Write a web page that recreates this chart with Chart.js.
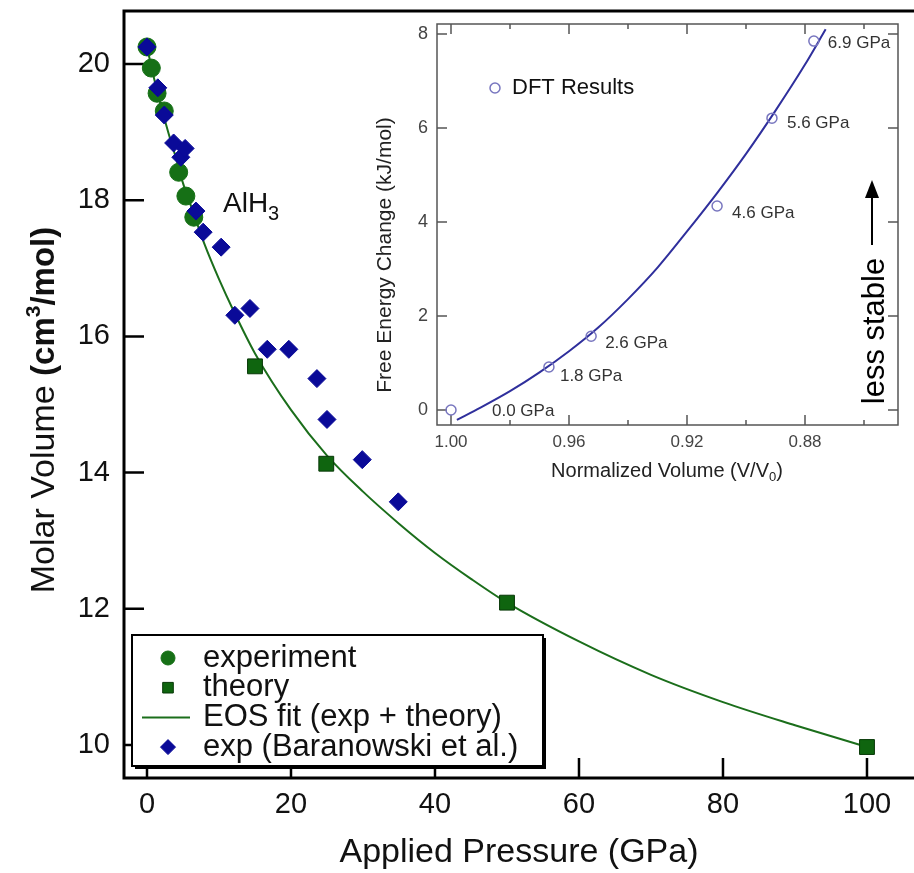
<!DOCTYPE html>
<html>
<head>
<meta charset="utf-8">
<script src="https://cdn.jsdelivr.net/npm/chart.js@4.4.1/dist/chart.umd.min.js"></script>
<style>
  body { margin: 0; background: #fff; }
  #marcoGrafico { position: relative; width: 914px; height: 873px; overflow: hidden; }
  #graficoVolumen { position: absolute; left: 0; top: 0; }
  #graficoEnergia { position: absolute; left: 360px; top: 12px; }
</style>
</head>
<body>
<div id="marcoGrafico">
  <canvas id="graficoVolumen" width="914" height="873"></canvas>
  <canvas id="graficoEnergia" width="554" height="488"></canvas>
</div>
<script>
// --- datos del grafico principal (volumen molar vs presion)
const presionExp = [0, 0.6, 1.4, 2.4, 4.4, 5.4, 6.5];
const volumenExp = [20.25, 19.94, 19.57, 19.31, 18.41, 18.06, 17.75];

const presionTeo = [15, 24.9, 50, 100];
const volumenTeo = [15.56, 14.13, 12.09, 9.97];

const presionAjuste = [0, 1, 2, 3, 4, 5, 6, 8, 10, 12, 15, 20, 25, 30, 35, 40, 45, 50, 60, 70, 80, 90, 100];
const volumenAjuste = [20.25, 19.78, 19.36, 18.98, 18.63, 18.25, 17.95, 17.35, 16.84, 16.38, 15.75, 14.92, 14.25, 13.72, 13.25, 12.82, 12.44, 12.09, 11.52, 11.03, 10.63, 10.29, 9.97];

const presionBaranowski = [0, 1.5, 2.4, 3.7, 4.7, 5.3, 6.8, 7.8, 10.3, 12.2, 14.3, 16.7, 19.7, 23.6, 25.0, 29.9, 34.9];
const volumenBaranowski = [20.25, 19.65, 19.25, 18.84, 18.63, 18.76, 17.84, 17.53, 17.31, 16.31, 16.41, 15.81, 15.81, 15.38, 14.78, 14.19, 13.57];

const ticksPresion = [0, 20, 40, 60, 80, 100];
const ticksVolumen = [10, 12, 14, 16, 18, 20];

// --- datos del recuadro (energia libre vs volumen normalizado)
const presionDFT = [0.0, 1.8, 2.6, 4.6, 5.6, 6.9];
const volNormDFT = [1.000, 0.9668, 0.9525, 0.9098, 0.8912, 0.877];
const energiaDFT = [0.0, 0.915, 1.57, 4.34, 6.21, 7.85];

const volNormAjuste = [0.998, 0.99, 0.98, 0.97, 0.96, 0.95, 0.94, 0.93, 0.92, 0.91, 0.90, 0.89, 0.88, 0.873];
const energiaAjuste = [-0.21, 0.05, 0.40, 0.80, 1.25, 1.76, 2.36, 3.03, 3.80, 4.60, 5.45, 6.37, 7.35, 8.10];

const ticksVolNorm = [1.00, 0.96, 0.92, 0.88];
const ticksVolNormMenor = [0.98, 0.94, 0.90, 0.86];
const ticksEnergia = [0, 2, 4, 6, 8];

// desplazamiento de las etiquetas "x.x GPa" respecto a cada punto
const desplazEtiquetas = [[41, 1], [11, 9], [14, 7], [15, 7], [15, 5], [14, 2]];

const fuente = '"Liberation Sans", Arial, Helvetica, sans-serif';
Chart.defaults.font.family = fuente;

const puntos = (xs, ys) => xs.map((v, i) => ({ x: v, y: ys[i] }));

// sin relleno automatico alrededor de los ejes: el area del grafico queda fija
const sinRelleno = s => { s.paddingLeft = 0; s.paddingRight = 0; s.paddingTop = 0; s.paddingBottom = 0; };

// texto con partes de distinta fuente (subindices, superindices, negrita)
function textoMixto(ctx, partes, x, y, alinear) {
  let total = 0;
  partes.forEach(p => { ctx.font = p.font; total += ctx.measureText(p.t).width; });
  let cx = alinear === 'center' ? x - total / 2 : x;
  ctx.textAlign = 'left';
  partes.forEach(p => {
    ctx.font = p.font;
    ctx.fillText(p.t, cx, y + (p.dy || 0));
    cx += ctx.measureText(p.t).width;
  });
}

// marco y marcas hacia dentro
const marco = {
  id: 'marco',
  beforeDatasetsDraw(chart, args, o) {
    const { ctx, chartArea: a, scales: { x, y } } = chart;
    ctx.save();
    ctx.strokeStyle = o.color;
    ctx.lineWidth = o.ancho;
    ctx.beginPath();
    const m = o.ancho / 2;
    if (o.lados.includes('top')) { ctx.moveTo(a.left - m, a.top); ctx.lineTo(a.right + m, a.top); }
    if (o.lados.includes('left')) { ctx.moveTo(a.left, a.top - m); ctx.lineTo(a.left, a.bottom + m); }
    if (o.lados.includes('bottom')) { ctx.moveTo(a.left - m, a.bottom); ctx.lineTo(a.right + m, a.bottom); }
    if (o.lados.includes('right')) { ctx.moveTo(a.right, a.top - m); ctx.lineTo(a.right, a.bottom + m); }
    ctx.stroke();

    ctx.lineWidth = o.anchoMarca;
    ctx.beginPath();
    const marcaX = (v, largo) => {
      const px = x.getPixelForValue(v);
      ctx.moveTo(px, a.bottom); ctx.lineTo(px, a.bottom - largo);
      if (o.arriba) { ctx.moveTo(px, a.top); ctx.lineTo(px, a.top + largo); }
    };
    x.ticks.forEach(t => marcaX(t.value, o.largo));
    (o.menoresX || []).forEach(v => marcaX(v, o.largoMenor));
    y.ticks.forEach(t => {
      const py = y.getPixelForValue(t.value);
      ctx.moveTo(a.left, py); ctx.lineTo(a.left + o.largo, py);
      if (o.derecha) { ctx.moveTo(a.right, py); ctx.lineTo(a.right - o.largo, py); }
    });
    ctx.stroke();
    ctx.restore();
  }
};

// titulo del eje y, etiqueta AlH3 y leyenda con sombra
const textosVolumen = {
  id: 'textosVolumen',
  afterDraw(chart, args, o) {
    const ctx = chart.ctx;
    ctx.save();
    ctx.fillStyle = '#111';
    ctx.textBaseline = 'alphabetic';

    ctx.save();
    ctx.translate(42, 410);
    ctx.rotate(-Math.PI / 2);
    textoMixto(ctx, [
      { t: 'Molar Volume ', font: `34px ${fuente}` },
      { t: '(cm', font: `bold 33px ${fuente}` },
      { t: '3', font: `bold 21px ${fuente}`, dy: -14 },
      { t: '/mol)', font: `bold 33px ${fuente}` }
    ], 0, 12, 'center');
    ctx.restore();

    textoMixto(ctx, [
      { t: 'AlH', font: `28px ${fuente}` },
      { t: '3', font: `20px ${fuente}`, dy: 8 }
    ], 223, 212, 'left');

    // leyenda
    const L = o.leyenda;
    ctx.fillStyle = '#000';
    ctx.fillRect(L.x + 3, L.y + 3, L.w, L.h);
    ctx.fillStyle = '#fff';
    ctx.fillRect(L.x, L.y, L.w, L.h);
    ctx.lineWidth = 2;
    ctx.strokeStyle = '#000';
    ctx.strokeRect(L.x, L.y, L.w, L.h);
    chart.data.datasets.forEach((ds, i) => {
      const cy = L.y + L.primera + i * L.paso;
      ctx.fillStyle = ds.backgroundColor;
      ctx.strokeStyle = ds.borderColor;
      if (ds.pointRadius === 0) {
        ctx.lineWidth = ds.borderWidth;
        ctx.beginPath();
        ctx.moveTo(L.lineaDesde, cy); ctx.lineTo(L.lineaHasta, cy);
        ctx.stroke();
      } else {
        ctx.lineWidth = 1;
        Chart.helpers.drawPoint(ctx, { pointStyle: ds.pointStyle, radius: L.radios[i], borderWidth: 1 }, L.simboloX, cy);
      }
      ctx.fillStyle = '#111';
      ctx.font = `${L.tamano}px ${fuente}`;
      ctx.textBaseline = 'middle';
      ctx.textAlign = 'left';
      ctx.fillText(ds.label, L.textoX, cy);
    });
    ctx.restore();
  }
};

// etiquetas del recuadro
const textosEnergia = {
  id: 'textosEnergia',
  afterDraw(chart) {
    const { ctx, scales: { x, y } } = chart;
    ctx.save();
    ctx.fillStyle = '#333';
    ctx.font = `17px ${fuente}`;
    ctx.textBaseline = 'middle';
    ctx.textAlign = 'left';
    presionDFT.forEach((p, i) => {
      const px = x.getPixelForValue(volNormDFT[i]) + desplazEtiquetas[i][0];
      const py = y.getPixelForValue(energiaDFT[i]) + desplazEtiquetas[i][1];
      ctx.fillText(`${p.toFixed(1)} GPa`, px, py);
    });

    // leyenda DFT
    const ds = chart.data.datasets[0];
    ctx.strokeStyle = ds.borderColor;
    ctx.lineWidth = ds.borderWidth;
    ctx.beginPath();
    ctx.arc(135, 76, ds.pointRadius, 0, Math.PI * 2);
    ctx.stroke();
    ctx.fillStyle = '#111';
    ctx.font = `22px ${fuente}`;
    ctx.fillText(ds.label, 152, 76);

    // titulos de ejes
    ctx.fillStyle = '#222';
    ctx.textBaseline = 'alphabetic';
    textoMixto(ctx, [
      { t: 'Normalized Volume (V/V', font: `20px ${fuente}` },
      { t: '0', font: `13px ${fuente}`, dy: 4 },
      { t: ')', font: `20px ${fuente}` }
    ], 307, 465, 'center');

    ctx.save();
    ctx.translate(25, 243);
    ctx.rotate(-Math.PI / 2);
    ctx.font = `21px ${fuente}`;
    ctx.textAlign = 'center';
    ctx.textBaseline = 'middle';
    ctx.fillText('Free Energy Change (kJ/mol)', 0, 0);
    ctx.restore();

    // "less stable" con flecha
    ctx.save();
    ctx.translate(515, 319);
    ctx.rotate(-Math.PI / 2);
    ctx.fillStyle = '#000';
    ctx.font = `31px ${fuente}`;
    ctx.textAlign = 'center';
    ctx.textBaseline = 'middle';
    ctx.fillText('less stable', 0, 0);
    ctx.restore();

    ctx.strokeStyle = '#000';
    ctx.fillStyle = '#000';
    ctx.lineWidth = 2;
    ctx.beginPath();
    ctx.moveTo(512, 233); ctx.lineTo(512, 184);
    ctx.stroke();
    ctx.beginPath();
    ctx.moveTo(512, 168); ctx.lineTo(505, 186); ctx.lineTo(519, 186);
    ctx.closePath();
    ctx.fill();
    ctx.restore();
  }
};

const ctxVolumen = document.getElementById('graficoVolumen').getContext('2d');

let graficoVolumen = new Chart(ctxVolumen, {
  type: 'scatter',
  data: {
    datasets: [{
      label: 'experiment',
      data: puntos(presionExp, volumenExp),
      pointStyle: 'circle',
      pointRadius: 9,
      backgroundColor: '#167016',
      borderColor: '#167016',
      borderWidth: 1,
      order: 2
    }, {
      label: 'theory',
      data: puntos(presionTeo, volumenTeo),
      pointStyle: 'rect',
      pointRadius: 10.5,
      backgroundColor: '#0f650f',
      borderColor: '#073807',
      borderWidth: 1,
      order: 1
    }, {
      label: 'EOS fit (exp + theory)',
      data: puntos(presionAjuste, volumenAjuste),
      showLine: true,
      pointRadius: 0,
      borderColor: '#1b6e1b',
      backgroundColor: '#1b6e1b',
      borderWidth: 2,
      tension: 0.4,
      cubicInterpolationMode: 'monotone',
      order: 3
    }, {
      label: 'exp (Baranowski et al.)',
      data: puntos(presionBaranowski, volumenBaranowski),
      pointStyle: 'rectRot',
      pointRadius: 9,
      backgroundColor: '#0a0a98',
      borderColor: '#0a0a98',
      borderWidth: 1,
      order: 0
    }]
  },
  options: {
    responsive: false,
    animation: false,
    devicePixelRatio: 1,
    events: [],
    layout: { autoPadding: false, padding: { top: 11, left: 0, right: 0, bottom: 0 } },
    plugins: {
      legend: { display: false },
      tooltip: { enabled: false },
      marco: { color: '#000', ancho: 3, anchoMarca: 2.5, largo: 20, lados: ['top', 'left', 'bottom'] },
      textosVolumen: {
        leyenda: {
          x: 132, y: 635, w: 411, h: 131, primera: 23, paso: 29.7,
          simboloX: 168, lineaDesde: 142, lineaHasta: 190, textoX: 203,
          tamano: 31, radios: [7, 7.5, 0, 7.5]
        }
      }
    },
    scales: {
      x: {
        type: 'linear',
        min: -3.194,
        max: 106.53,
        afterBuildTicks: s => { s.ticks = ticksPresion.map(v => ({ value: v })); },
        afterFit: s => { s.height = 95; sinRelleno(s); },
        grid: { display: false, drawTicks: false },
        border: { display: false },
        ticks: { font: { size: 29 }, color: '#111', padding: 10, maxRotation: 0, autoSkip: false },
        title: {
          display: true,
          text: 'Applied Pressure (GPa)',
          font: { size: 34 },
          color: '#111',
          padding: { top: 0, bottom: 0 }
        }
      },
      y: {
        type: 'linear',
        min: 9.515,
        max: 20.778,
        afterBuildTicks: s => { s.ticks = ticksVolumen.map(v => ({ value: v })); },
        afterFit: s => { s.width = 124; sinRelleno(s); },
        grid: { display: false, drawTicks: false },
        border: { display: false },
        ticks: { font: { size: 29 }, color: '#111', padding: 14 }
      }
    }
  },
  plugins: [marco, textosVolumen]
});

const ctxEnergia = document.getElementById('graficoEnergia').getContext('2d');

let graficoEnergia = new Chart(ctxEnergia, {
  type: 'scatter',
  data: {
    datasets: [{
      label: 'DFT Results',
      data: puntos(volNormDFT, energiaDFT),
      pointStyle: 'circle',
      pointRadius: 5,
      backgroundColor: 'rgba(0,0,0,0)',
      borderColor: '#7876bf',
      borderWidth: 1.5,
      order: 0
    }, {
      label: 'ajuste',
      data: puntos(volNormAjuste, energiaAjuste),
      showLine: true,
      pointRadius: 0,
      borderColor: '#2f2f9c',
      borderWidth: 2,
      tension: 0.4,
      cubicInterpolationMode: 'monotone',
      order: 1
    }]
  },
  options: {
    responsive: false,
    animation: false,
    devicePixelRatio: 1,
    events: [],
    layout: { autoPadding: false, padding: { top: 12, left: 0, right: 16, bottom: 0 } },
    plugins: {
      legend: { display: false },
      tooltip: { enabled: false },
      marco: {
        color: '#555', ancho: 1.5, anchoMarca: 1.5, largo: 10, largoMenor: 5,
        lados: ['top', 'left', 'bottom', 'right'], arriba: true, derecha: true,
        menoresX: ticksVolNormMenor
      }
    },
    scales: {
      x: {
        type: 'linear',
        reverse: true,
        min: 0.848475,
        max: 1.004746,
        afterBuildTicks: s => { s.ticks = ticksVolNorm.map(v => ({ value: v })); },
        afterFit: s => { s.height = 75; sinRelleno(s); },
        grid: { display: false, drawTicks: false },
        border: { display: false },
        ticks: { callback: v => v.toFixed(2), font: { size: 17 }, color: '#444', padding: 7, maxRotation: 0, autoSkip: false }
      },
      y: {
        type: 'linear',
        min: -0.319,
        max: 8.213,
        afterBuildTicks: s => { s.ticks = ticksEnergia.map(v => ({ value: v })); },
        afterFit: s => { s.width = 77; sinRelleno(s); },
        grid: { display: false, drawTicks: false },
        border: { display: false },
        ticks: { font: { size: 18 }, color: '#444', padding: 9 }
      }
    }
  },
  plugins: [marco, textosEnergia]
});
</script>
</body>
</html>
